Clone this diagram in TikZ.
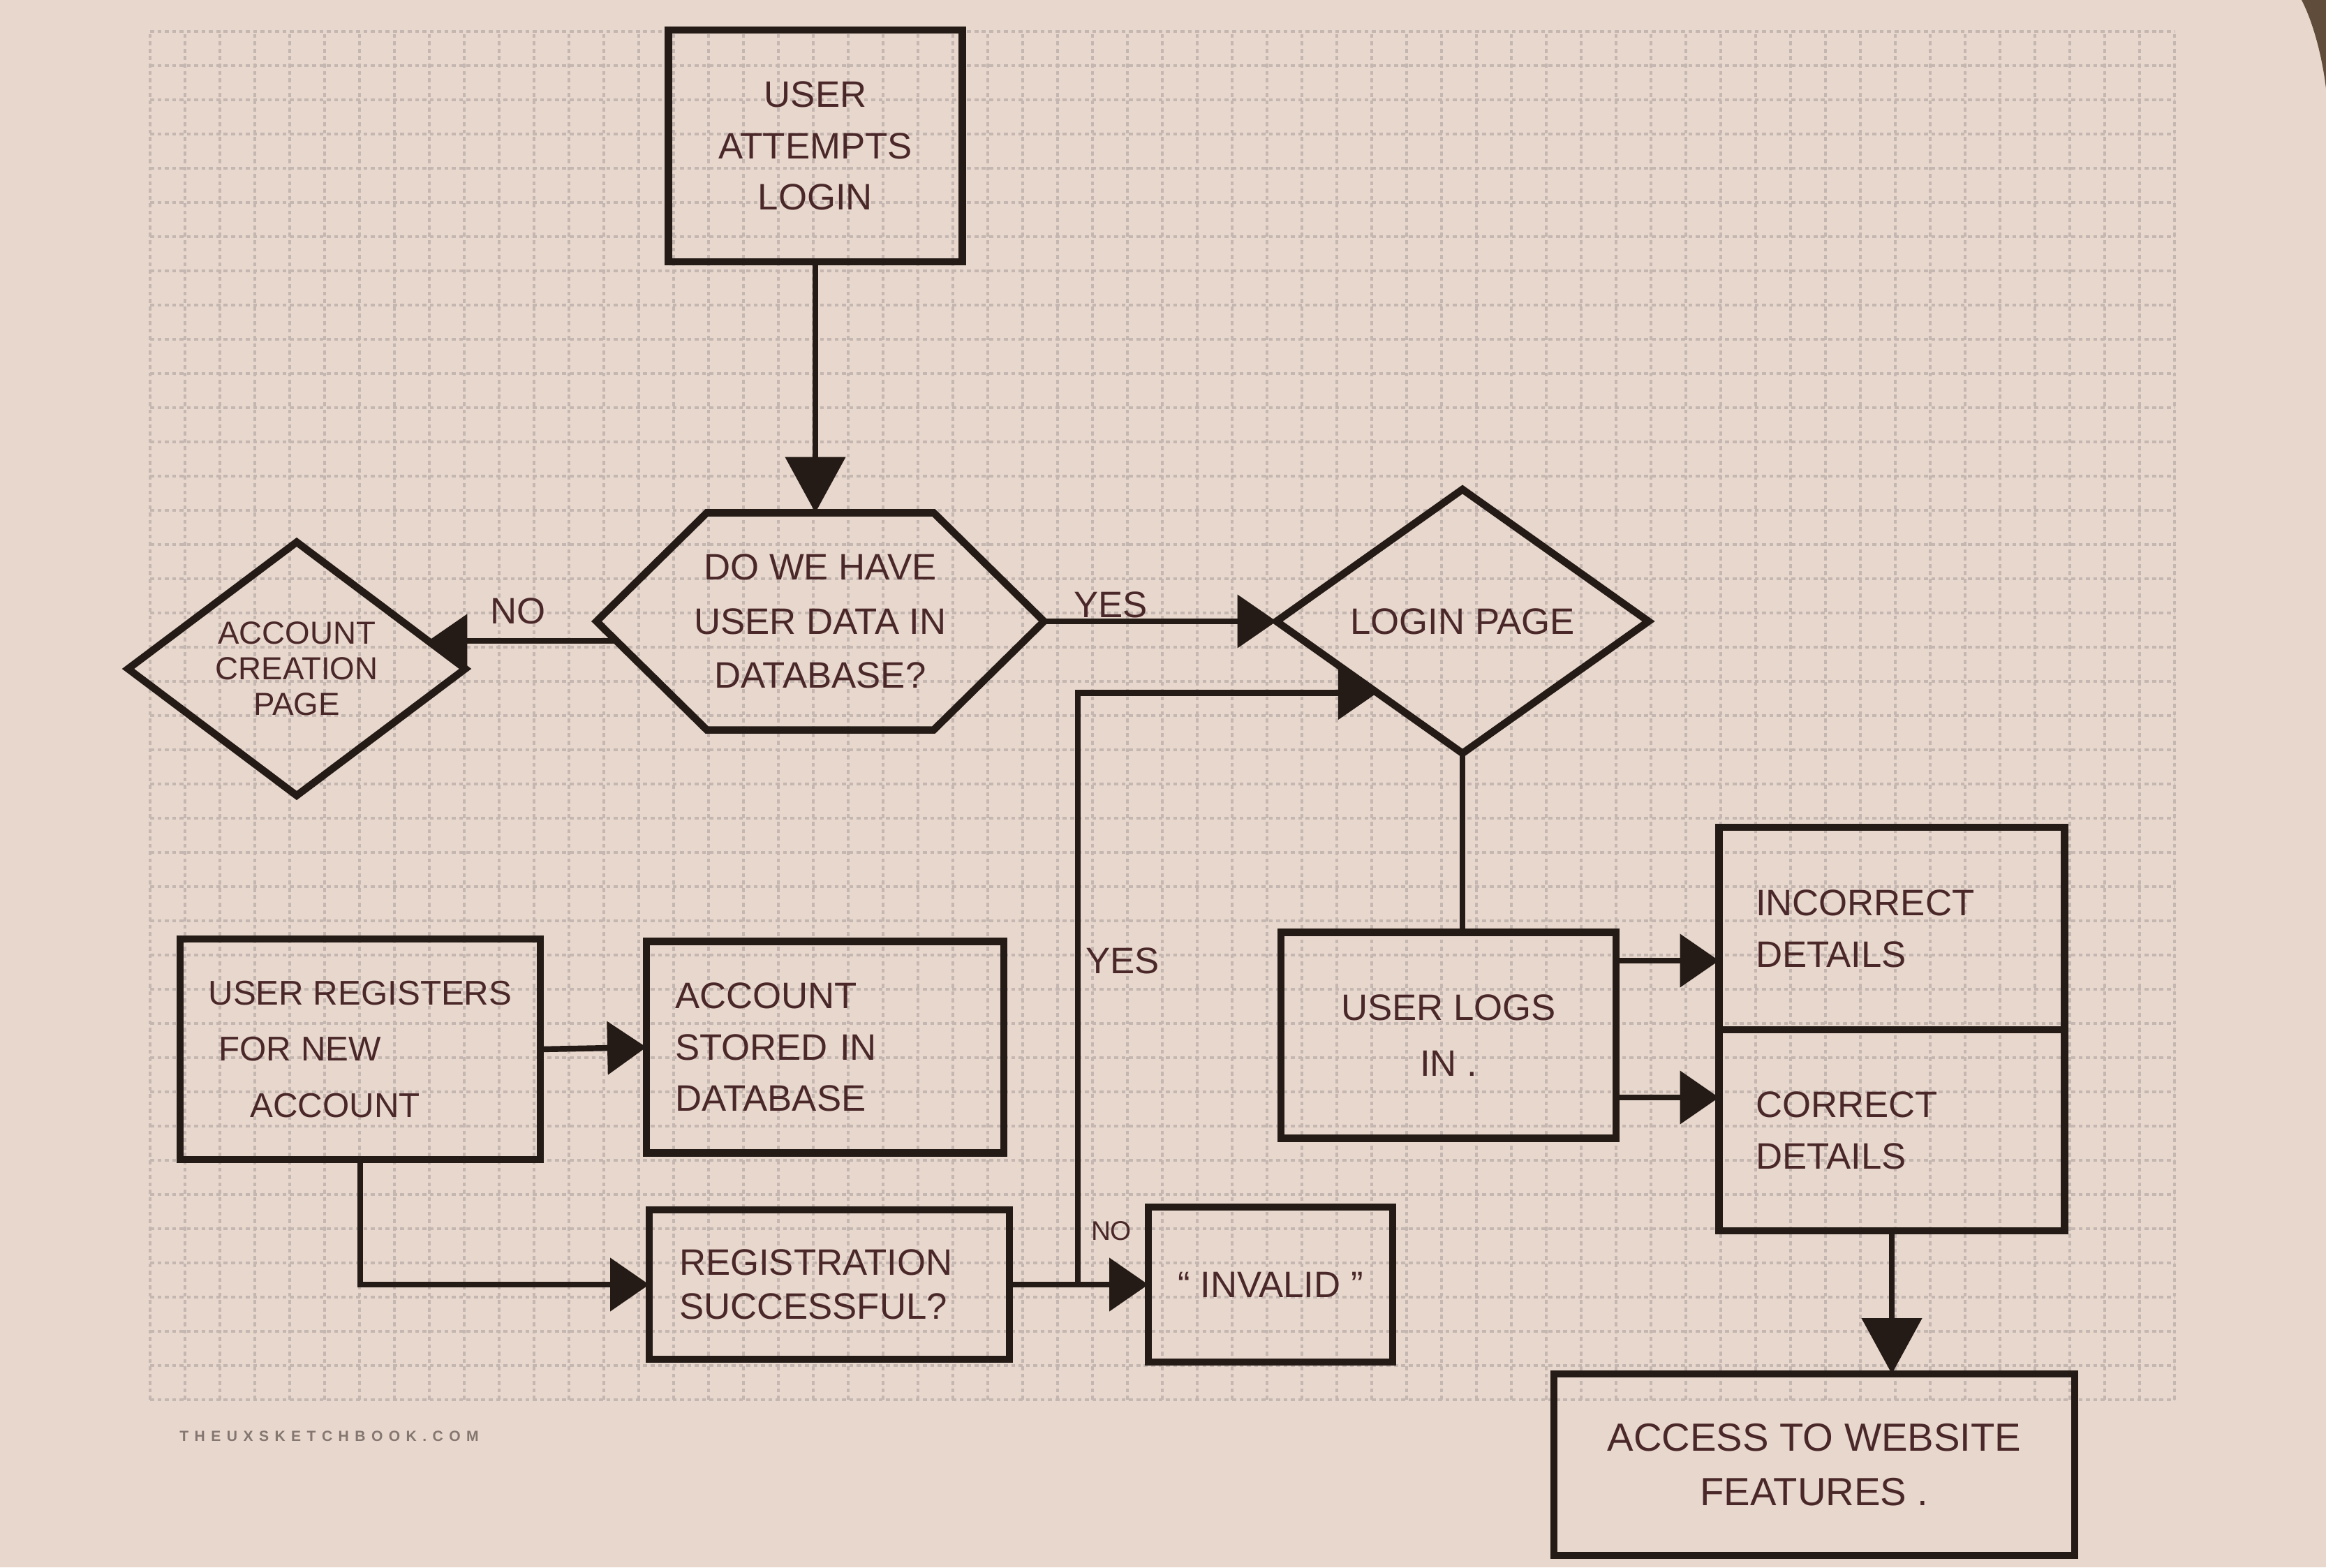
\documentclass[tikz,border=0pt]{standalone}
\usepackage{fontspec}
\setmainfont{Liberation Sans}
\newfontfamily\markfont[LetterSpace=40]{Liberation Sans}
\usepackage{tikz}
\usetikzlibrary{arrows.meta,shapes.geometric,positioning,calc}

\definecolor{paper}{RGB}{232,215,204}
\definecolor{gridgray}{RGB}{196,182,176}
\definecolor{ink}{RGB}{36,27,23}
\definecolor{pen}{RGB}{74,40,42}
\definecolor{shadow}{RGB}{96,76,58}
\definecolor{print}{RGB}{132,118,112}

\begin{document}
\begin{tikzpicture}[
        box/.style={rectangle,draw=ink,line width=3pt,outer sep=0pt,text=pen,font=\fontsize{15}{21}\selectfont,align=center},
        decision/.style={diamond,aspect=1.4,draw=ink,line width=3pt,outer sep=0pt,inner sep=0pt,text=pen,font=\fontsize{15}{21}\selectfont,align=center},
        question/.style={rectangle,outer sep=0pt,inner sep=0pt,text=pen,font=\fontsize{15}{22}\selectfont,align=center},
        link/.style={draw=ink,line width=2.4pt},
        arrow/.style={link,-{Triangle[length=0.56cm,width=0.75cm]}},
        bigarrow/.style={link,-{Triangle[length=0.8cm,width=0.85cm]}},
        answer/.style={text=pen,font=\fontsize{15}{18}\selectfont},
        gridline/.style={gridgray,line width=0.9pt,dash pattern=on 1.6pt off 1.4pt},
    ]
    % === PAPER ===
    \useasboundingbox (0,0) rectangle (33.32,-22.45);
    \fill[paper] (0,0) rectangle (33.32,-22.45);
    \fill[shadow] (32.97,0) .. controls (33.15,-0.35) and (33.27,-0.85) .. (33.32,-1.27) -- (33.32,0) -- cycle;
    \begin{scope}[shift={(2.15,-20.05)}]
        \draw[gridline] (0,0) grid[xstep=0.5,ystep=0.49] (29.0,19.6);
    \end{scope}
    \node[text=print,font=\markfont\bfseries\fontsize{6}{7}\selectfont,anchor=west] (mark) at (2.45,-20.57) {THEUXSKETCHBOOK.COM};

    % === LOGIN CHECK ===
    \node[box,minimum width=4.21cm,minimum height=3.32cm] (attempt) at (11.68,-2.09) {USER\\ATTEMPTS\\LOGIN};
    \node[question,minimum width=6.41cm,minimum height=3.11cm] (check) at (11.75,-8.90) {DO WE HAVE\\USER DATA IN\\DATABASE?};
    \draw[draw=ink,line width=3pt] (check.west) -- ([xshift=1.58cm]check.north west) -- ([xshift=-1.58cm]check.north east)
        -- (check.east) -- ([xshift=-1.58cm]check.south east) -- ([xshift=1.58cm]check.south west) -- cycle;
    \node[decision,minimum width=4.83cm,minimum height=3.63cm,font=\fontsize{13}{14.5}\selectfont] (create) at (4.25,-9.58) {ACCOUNT\\CREATION\\PAGE};
    \node[decision,minimum width=5.33cm,minimum height=3.78cm] (loginpage) at (20.95,-8.90) {LOGIN PAGE};

    \draw[bigarrow] (attempt.south) -- (attempt.south |- check.north);
    \coordinate (nostart) at ($(check.west |- create.12)+(0.28,0)$);
    \draw[arrow] (nostart) -- (create.12);
    \node[answer] (no1) at (7.42,-8.75) {NO};
    \draw[arrow] (check.east) -- (loginpage.west);
    \node[answer] (yes1) at (15.91,-8.66) {YES};

    % === LOGGING IN ===
    \node[box,minimum width=4.80cm,minimum height=2.95cm,font=\fontsize{15}{23}\selectfont] (logsin) at (20.75,-14.83) {USER LOGS\\IN .};
    \node[box,minimum width=4.95cm,minimum height=2.90cm,text width=3.9cm,align=left] (incorrect) at (27.10,-13.30) {INCORRECT\\DETAILS};
    \node[box,minimum width=4.95cm,minimum height=2.88cm,text width=3.9cm,align=left,below=0pt of incorrect] (correct) {CORRECT\\DETAILS};
    \node[box,minimum width=7.46cm,minimum height=2.60cm,font=\fontsize{16}{22}\selectfont] (access) at (25.99,-20.98) {ACCESS TO WEBSITE\\FEATURES .};

    \draw[link] (loginpage.south) -- (loginpage.south |- logsin.north);
    \coordinate (wrongin) at ($(incorrect.south west)+(0,0.99)$);
    \coordinate (rightin) at ($(incorrect.south west)+(0,-0.97)$);
    \draw[arrow] (logsin.east |- wrongin) -- (wrongin);
    \draw[arrow] (logsin.east |- rightin) -- (rightin);
    \draw[bigarrow] (correct.south) -- (correct.south |- access.north);

    % === REGISTRATION ===
    \node[box,minimum width=5.16cm,minimum height=3.16cm,font=\fontsize{14}{23}\selectfont,align=left] (register) at (5.16,-15.03) {USER REGISTERS\\\hspace*{0.15cm}FOR NEW\\\hspace*{0.6cm}ACCOUNT};
    \node[box,minimum width=5.12cm,minimum height=3.03cm,text width=4.3cm,align=left] (stored) at (11.82,-15.00) {ACCOUNT\\STORED IN\\DATABASE};
    \node[box,minimum width=5.16cm,minimum height=2.14cm,text width=4.3cm,align=left,font=\fontsize{15}{18}\selectfont] (success) at (11.88,-18.40) {REGISTRATION\\SUCCESSFUL?};
    \node[box,minimum width=3.50cm,minimum height=2.22cm] (invalid) at (18.20,-18.40) {“ INVALID ”};

    \draw[arrow] (register.east) -- (stored.west);
    \draw[arrow] (register.south) |- (success.west);
    \coordinate (split) at ($(success.east)+(0.98,0)$);
    \draw[link] (success.east) -- (split);
    \draw[arrow] (split) -- (invalid.west);
    \draw[arrow] (split) |- (loginpage.220);
    \node[answer] (yes2) at (16.08,-13.76) {YES};
    \node[answer,font=\fontsize{11}{12}\selectfont] (no2) at (15.92,-17.63) {NO};
\end{tikzpicture}
\end{document}
